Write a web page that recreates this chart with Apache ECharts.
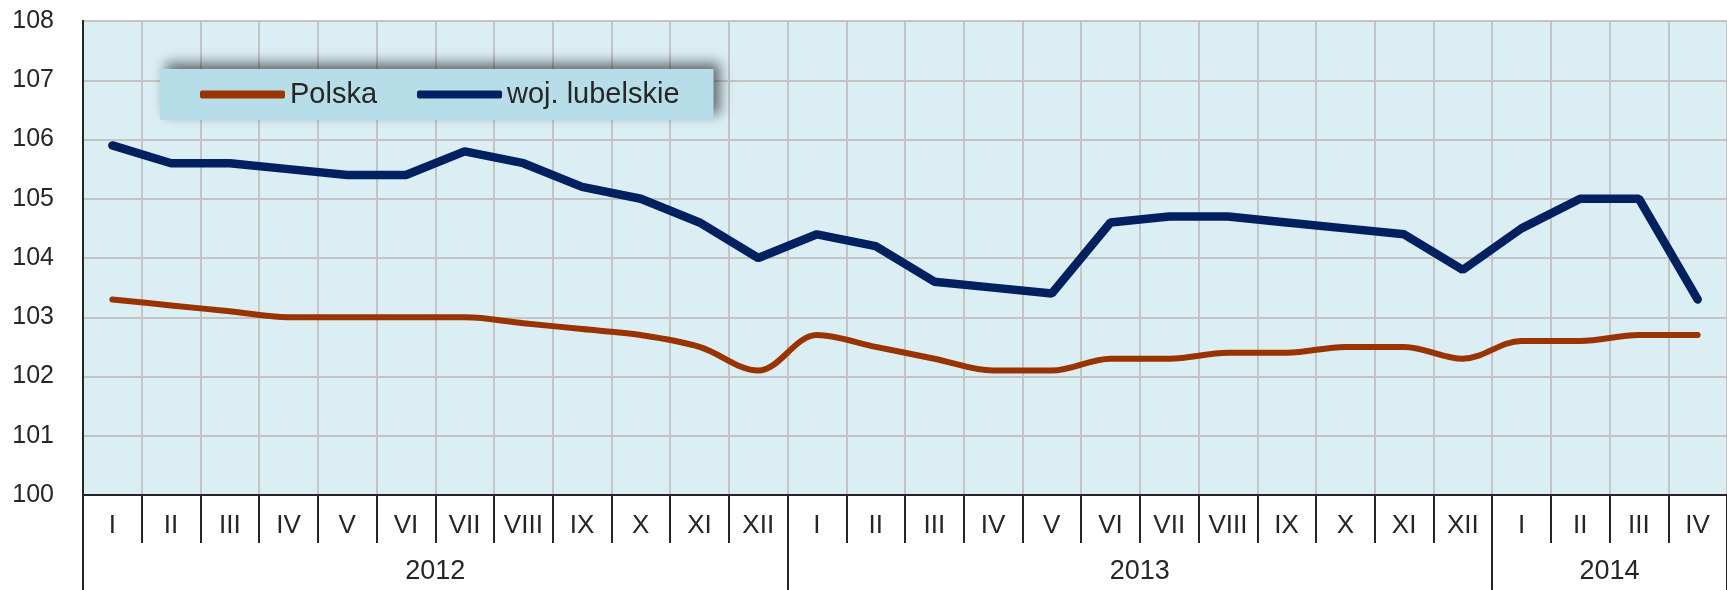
<!DOCTYPE html>
<html>
<head>
<meta charset="utf-8">
<title>Polska / woj. lubelskie</title>
<script src="https://cdn.jsdelivr.net/npm/echarts@6/dist/echarts.min.js"></script>
<style>
  html, body { margin: 0; padding: 0; background: #fff; }
  #chart { width: 1727px; height: 590px; }
</style>
</head>
<body>
<div id="chart"></div>
<script>
// months per year shown on the axis
const monthNames = ['I', 'II', 'III', 'IV', 'V', 'VI', 'VII', 'VIII', 'IX', 'X', 'XI', 'XII'];
const years = ['2012', '2013', '2014'];
const monthsInYear = [12, 12, 4];

const polska = [
  103.3, 103.2, 103.1, 103.0, 103.0, 103.0, 103.0, 102.9, 102.8, 102.7, 102.5, 102.1,
  102.7, 102.5, 102.3, 102.1, 102.1, 102.3, 102.3, 102.4, 102.4, 102.5, 102.5, 102.3,
  102.6, 102.6, 102.7, 102.7
];
const lubelskie = [
  105.9, 105.6, 105.6, 105.5, 105.4, 105.4, 105.8, 105.6, 105.2, 105.0, 104.6, 104.0,
  104.4, 104.2, 103.6, 103.5, 103.4, 104.6, 104.7, 104.7, 104.6, 104.5, 104.4, 103.8,
  104.5, 105.0, 105.0, 103.3
];

const yMin = 100, yMax = 108, yStep = 1;

// category list + where each year starts / where its label sits
const categories = [];
const yearStart = [];
const yearLabelAt = {};
monthsInYear.forEach((n, k) => {
  yearStart.push(categories.length);
  yearLabelAt[categories.length + Math.ceil(n / 2)] = years[k];
  for (let i = 0; i < n; i++) categories.push(monthNames[i]);
});

const W = 1727;
const gridLeft = 83, gridRight = -2;
const band = (W - gridLeft - gridRight) / categories.length;

const ink = '#262626';
const gridGray = '#c4c4c4';
const font = '"Liberation Sans", Arial, sans-serif';
const brown = '#993300', navy = '#002060';

const chart = echarts.init(document.getElementById('chart'));

chart.setOption({
  animation: false,
  textStyle: { fontFamily: font },
  grid: {
    left: gridLeft, right: gridRight, top: 21, bottom: 95,
    show: true, backgroundColor: '#daeef3', borderColor: ink, borderWidth: 2
  },
  legend: {
    left: 160, top: 69,
    padding: [11, 34, 11, 40],
    itemWidth: 85, itemHeight: 8, itemGap: 40,
    backgroundColor: '#b7dde8',
    shadowColor: 'rgba(0,0,0,0.55)', shadowBlur: 12, shadowOffsetX: 6, shadowOffsetY: -6,
    textStyle: { fontSize: 29, color: ink, fontFamily: font },
    data: [
      { name: 'Polska', icon: 'roundRect', itemStyle: { color: brown } },
      { name: 'woj. lubelskie', icon: 'roundRect', itemStyle: { color: navy } }
    ]
  },
  xAxis: [{
    type: 'category',
    data: categories,
    boundaryGap: true,
    axisLine: { lineStyle: { color: ink, width: 2 } },
    axisTick: { show: true, interval: 0, length: 48, lineStyle: { color: ink, width: 2 } },
    axisLabel: { interval: 0, fontSize: 26, margin: 18, color: ink },
    splitLine: { show: true, interval: 0, lineStyle: { color: gridGray, width: 2 } }
  }, {
    type: 'category',
    data: categories,
    position: 'bottom',
    boundaryGap: true,
    axisLine: { show: false },
    axisTick: {
      show: true, length: 96,
      interval: (i) => yearStart.indexOf(i) >= 0,
      lineStyle: { color: ink, width: 2 }
    },
    axisLabel: {
      interval: (i) => yearLabelAt[i] !== undefined,
      formatter: (v, i) => yearLabelAt[i] || '',
      fontSize: 27, margin: 63, color: ink,
      padding: [0, band, 0, 0]
    },
    splitLine: { show: false }
  }],
  yAxis: {
    type: 'value',
    min: yMin, max: yMax, interval: yStep,
    axisLine: { show: true, lineStyle: { color: ink, width: 2 } },
    axisTick: { show: false },
    axisLabel: { fontSize: 25, margin: 29, color: ink },
    splitLine: { lineStyle: { color: gridGray, width: 2 } }
  },
  series: [{
    name: 'Polska',
    type: 'line',
    data: polska,
    smooth: 0.35,
    symbol: 'none',
    itemStyle: { color: brown },
    lineStyle: { color: brown, width: 6, cap: 'round' }
  }, {
    name: 'woj. lubelskie',
    type: 'line',
    data: lubelskie,
    symbol: 'none',
    itemStyle: { color: navy },
    lineStyle: { color: navy, width: 8.5, cap: 'round' }
  }]
});
</script>
</body>
</html>
